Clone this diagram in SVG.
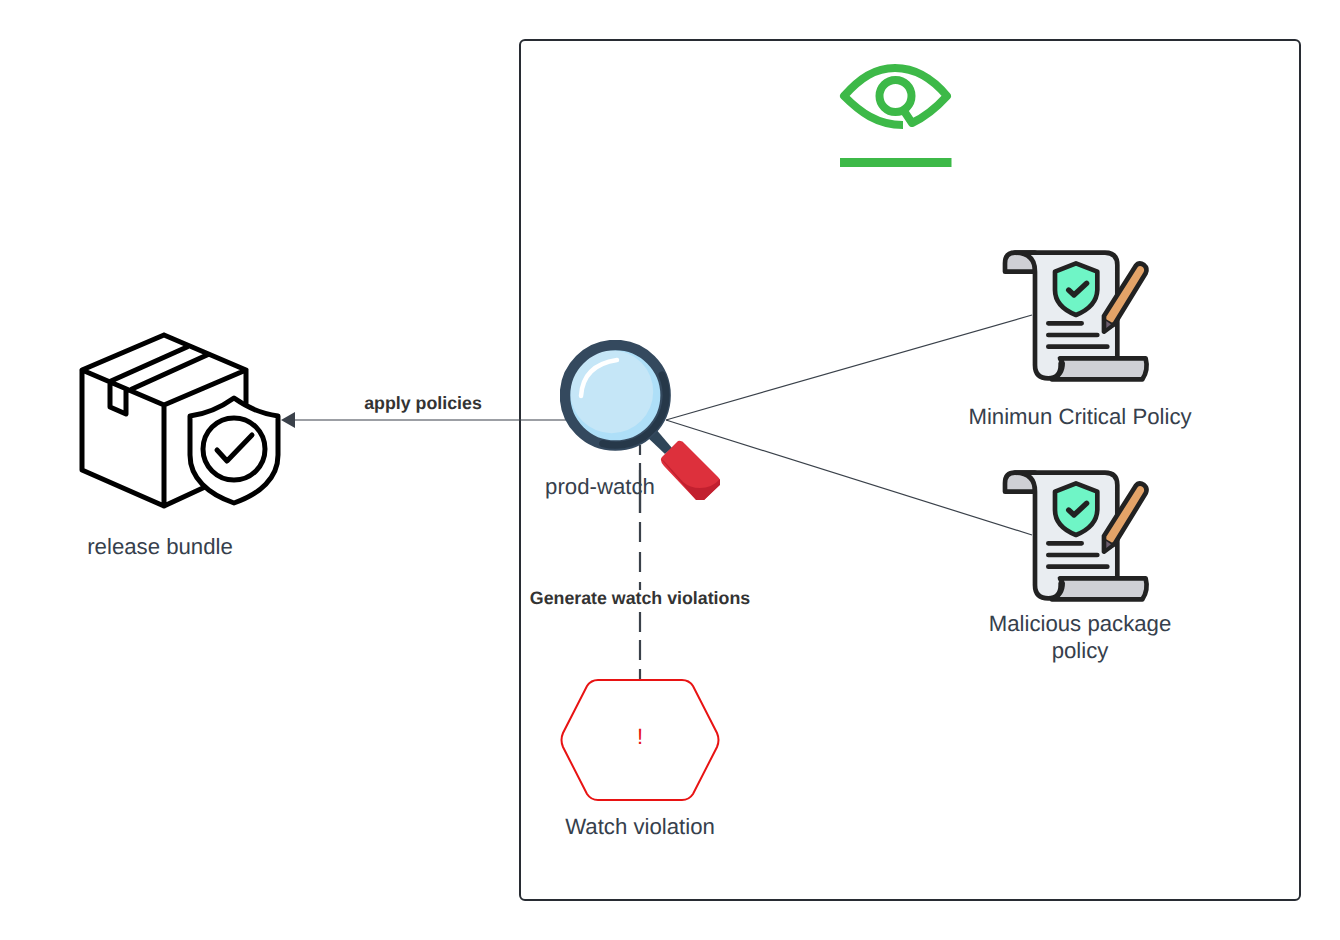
<svg xmlns="http://www.w3.org/2000/svg" width="1340" height="940" viewBox="0 0 1340 940">
<style>
text{font-family:"Liberation Sans",Arial,sans-serif;text-rendering:geometricPrecision}
.lab{font-size:22.200px;fill:#36404c;text-anchor:middle}
.conlab{font-size:17.800px;font-weight:bold;fill:#333;text-anchor:middle}
.con{fill:none;stroke:#3a414a;stroke-width:1.200}
.k{fill:none;stroke:#000;stroke-width:5;stroke-linejoin:round;stroke-linecap:round}
.s{stroke:#222;stroke-width:14;stroke-linejoin:round;stroke-linecap:round}
</style>
<defs>
<g id="scroll" transform="scale(.3333)">
<path class="s" fill="#cfd0d5" d="M135,95H45V70Q45,38 75,38H135Z"/>
<path class="s" fill="#e9edf1" d="M75,38H345Q382,38 382,75V370H212V375Q212,415 175,415Q135,415 135,375V95Q135,38 75,38Z"/>
<path class="s" fill="#cfd0d5" d="M210,355H467Q476,390 457,418H185Q218,405 218,370Z"/>
<path class="s" fill="#6ff5c6" d="M258,70L322,95V150Q320,200 258,225Q195,200 195,150V95Z"/>
<path class="s" fill="none" d="M175,250H275M175,285H322M175,320H352"/>
<path class="s" fill="none" stroke-width="16" style="stroke-width:16" d="M236,150L252,165L290,130"/>
<path class="s" fill="#e3a368" d="M342,228L437,78Q447,65 462,75Q474,85 467,100L375,250L342,275Z"/>
<path fill="#222" d="M338,232L380,256L342,278Z"/>
<path fill="#6d5f6f" d="M349,243L363,253L349,264Z"/>
</g>
<clipPath id="mc"><rect x="560" y="340" width="160" height="160"/></clipPath>
</defs>
<rect id="frame" x="520" y="40" width="780" height="860" rx="5" fill="#fff" stroke="#282c33" stroke-width="2"/>
<g id="connectors">
<path class="con" d="M570,420H294"/>
<path fill="#3a414a" d="M295,412V428L281,420Z"/>
<path class="con" d="M666,420L1032,315"/>
<path class="con" d="M666,420L1032,535"/>
<path fill="none" stroke="#3a414a" stroke-width="2.200" d="M640,445V455M640,463V513M640,522V542M640,552V572M640,582V602M640,612V632M640,640V660M640,669V680"/>
</g>
<g id="watch-icon" fill="none" stroke="#3db948" stroke-linejoin="round">
<path stroke-width="8" d="M903,125C877,125 860,112 844,96C860,78 875,68 895,68C915,68 932,78 947,96C936,108 925,117 912,123L902,108"/>
<circle cx="895.500" cy="96" r="16" stroke-width="8"/>
<rect x="840" y="158" width="111.500" height="9" fill="#3db948" stroke="none"/>
</g>
<g id="release-bundle">
<path class="k" d="M164,335L82,370V470L164,506V405L82,370M164,335L246,370L164,405M246,370V403M164,506L205,487M111,381L187,347M132,389L207,355M110,383V407L126,414V390"/>
<path class="k" style="fill:#fff" d="M234,398C248,408 262,414 278,416V455C278,478 260,494 234,503C208,494 190,478 190,455V416C206,414 220,408 234,398Z"/>
<circle class="k" cx="234" cy="449" r="31"/>
<path class="k" d="M217,450L227,461L252,435"/>
<text class="lab" x="160" y="554">release bundle</text>
</g>
<g id="prod-watch">
<g clip-path="url(#mc)">
<path d="M655,428L672,448L665,454L645,435Z" fill="#2f4558"/>
<path d="M678,441Q682,440 685,444L718,477Q722,481 719,485L703,501H697L664,466Q659,460 662,457Z" fill="#dd303c"/>
<path d="M661,459L697,501H703L720,485V479Q712,488 700,488Q690,488 683,482L664,461Z" fill="#c2202f"/>
<circle cx="615.300" cy="395.300" r="46" fill="#aedff8"/>
<circle cx="611.700" cy="391.700" r="41.500" fill="#c5e6f7"/>
<circle cx="615.300" cy="395.300" r="50.300" fill="none" stroke="#34495e" stroke-width="10.500"/>
<path d="M662,375A50.300,50.300 0 0 1 602.600,443.500" fill="none" stroke="#263849" stroke-width="7" stroke-linecap="round"/>
<path d="M581,396Q583,365 617,360" fill="none" stroke="#fff" stroke-width="4.500" stroke-linecap="round"/>
</g>
<text class="lab" x="600" y="494">prod-watch</text>
<path d="M640,470V513" stroke="#3a414a" stroke-width="2.200"/>
</g>
<g id="policy-1">
<use href="#scroll" transform="translate(990,240)"/>
<text class="lab" x="1080" y="424">Minimun Critical Policy</text>
</g>
<g id="policy-2">
<use href="#scroll" transform="translate(990,460)"/>
<text class="lab" x="1080" y="631">Malicious package</text>
<text class="lab" x="1080" y="658">policy</text>
</g>
<g id="watch-violation">
<path d="M598,680H682Q689,680 693,686L717,733Q720,740 717,747L693,794Q689,800 682,800H598Q591,800 587,794L563,747Q560,740 563,733L587,686Q591,680 598,680Z" fill="#fff" stroke="#e81313" stroke-width="2"/>
<text x="640" y="744" font-size="22" fill="#e81313" text-anchor="middle">!</text>
<text class="lab" x="640" y="834">Watch violation</text>
</g>
<rect x="528" y="590" width="224" height="16" fill="#fff"/>
<text class="conlab" x="423" y="409">apply policies</text>
<text class="conlab" x="640" y="604">Generate watch violations</text>
</svg>
